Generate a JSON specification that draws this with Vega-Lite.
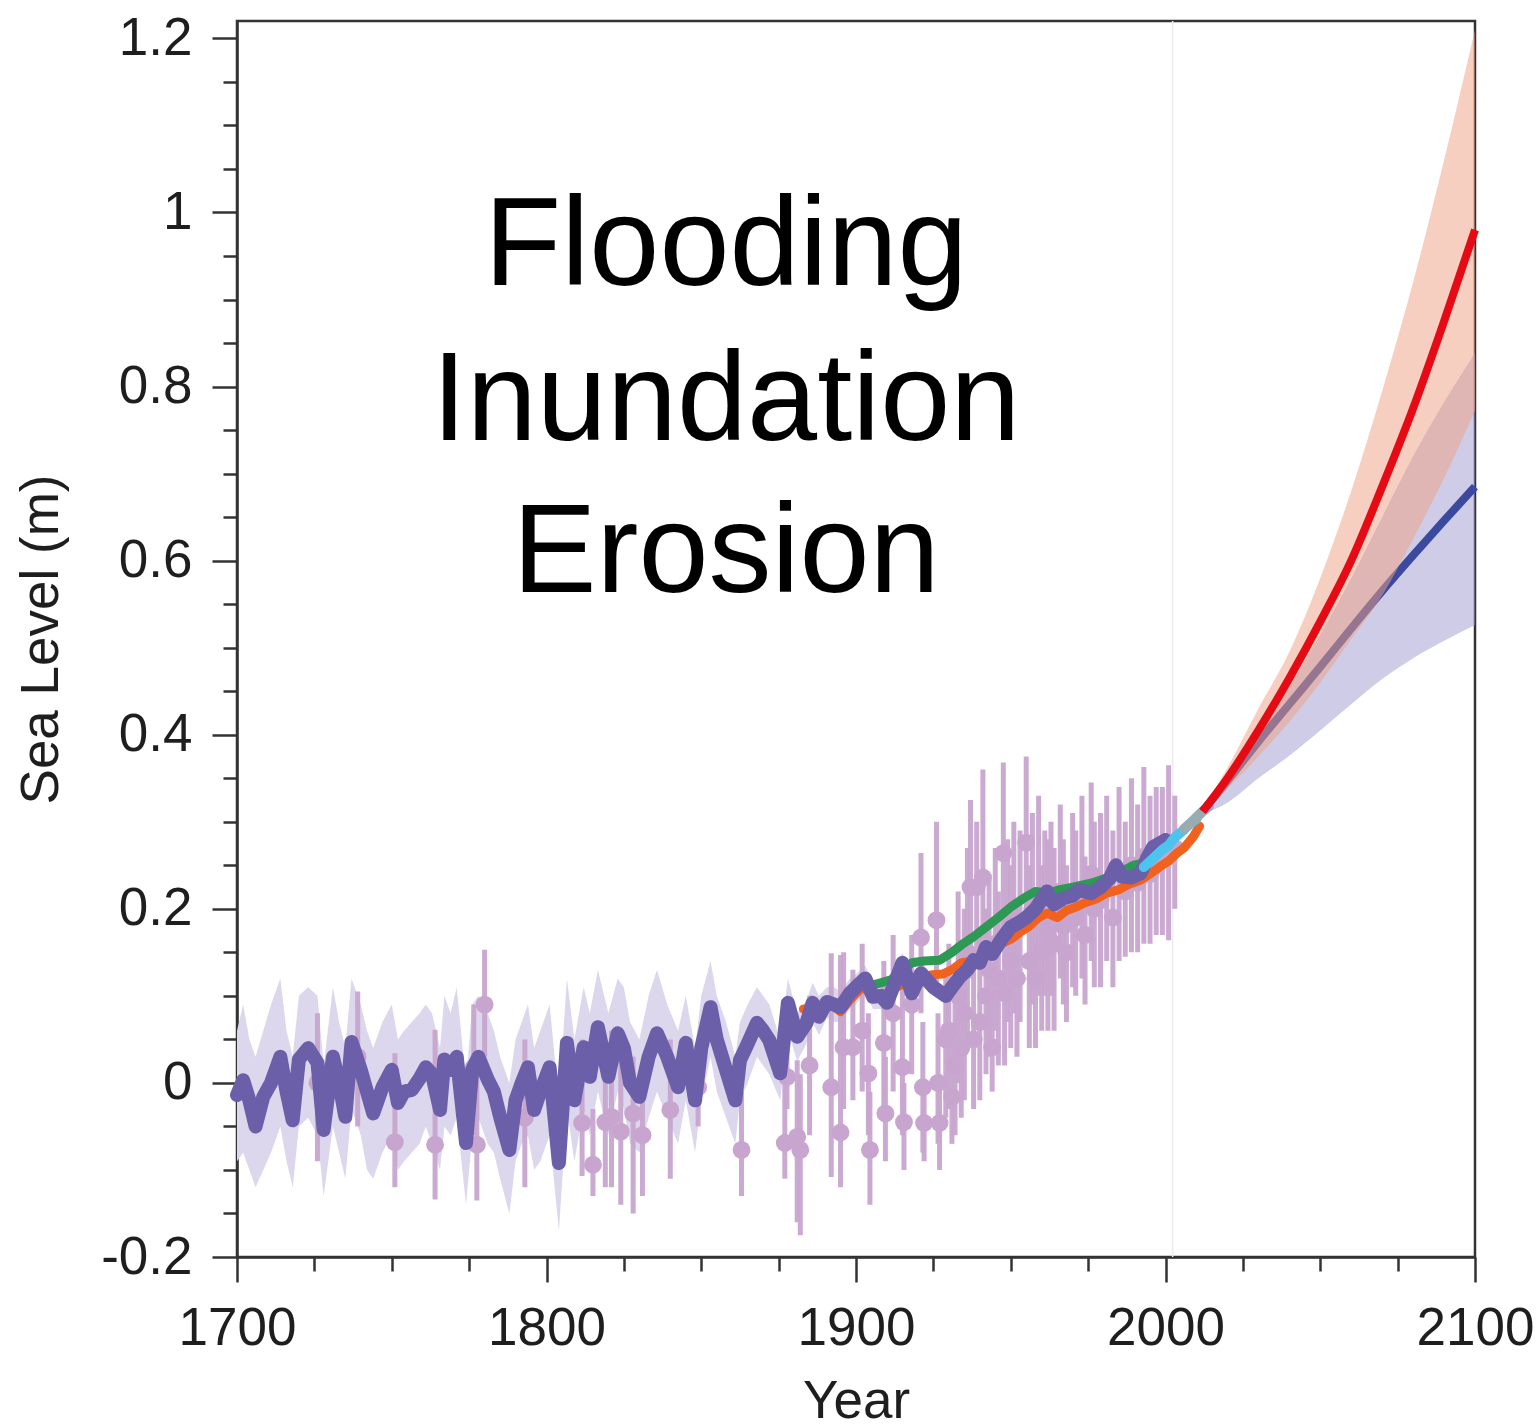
{
  "$schema": "https://vega.github.io/schema/vega-lite/v6.json",
  "width": 1238,
  "height": 1236,
  "autosize": {"type": "none"},
  "padding": {"left": 237, "top": 21, "right": 64, "bottom": 171},
  "background": "white",
  "config": {
    "view": {"stroke": "#333333", "strokeWidth": 2.5},
    "axis": {
      "grid": false,
      "domainColor": "#333333",
      "domainWidth": 2.5,
      "tickColor": "#333333",
      "tickWidth": 2.5,
      "labelFont": "Liberation Sans",
      "titleFont": "Liberation Sans",
      "labelColor": "#1e1e1e",
      "titleColor": "#1e1e1e",
      "labelFontSize": 53,
      "titleFontSize": 53,
      "titleFontWeight": "normal"
    }
  },
  "datasets": {
    "recon": [
      {"year": 1700, "v": -0.014, "lo": -0.09, "hi": 0.06},
      {"year": 1702, "v": 0.003, "lo": -0.08, "hi": 0.09},
      {"year": 1704, "v": -0.02, "lo": -0.10, "hi": 0.05},
      {"year": 1706, "v": -0.05, "lo": -0.12, "hi": 0.03},
      {"year": 1708.5, "v": -0.016, "lo": -0.10, "hi": 0.06},
      {"year": 1711, "v": 0.0, "lo": -0.08, "hi": 0.09},
      {"year": 1714, "v": 0.03, "lo": -0.05, "hi": 0.12},
      {"year": 1716, "v": -0.01, "lo": -0.09, "hi": 0.06},
      {"year": 1718, "v": -0.043, "lo": -0.12, "hi": 0.03},
      {"year": 1720, "v": 0.027, "lo": -0.05, "hi": 0.10},
      {"year": 1723, "v": 0.04, "lo": -0.04, "hi": 0.11},
      {"year": 1726, "v": 0.023, "lo": -0.06, "hi": 0.10},
      {"year": 1728, "v": -0.054, "lo": -0.13, "hi": 0.02},
      {"year": 1731, "v": 0.03, "lo": -0.05, "hi": 0.11},
      {"year": 1733, "v": 0.0, "lo": -0.08, "hi": 0.07},
      {"year": 1735, "v": -0.039, "lo": -0.11, "hi": 0.04},
      {"year": 1737, "v": 0.047, "lo": -0.03, "hi": 0.12},
      {"year": 1740, "v": 0.015, "lo": -0.06, "hi": 0.09},
      {"year": 1742, "v": -0.01, "lo": -0.10, "hi": 0.06},
      {"year": 1744, "v": -0.035, "lo": -0.11, "hi": 0.04},
      {"year": 1747, "v": -0.005, "lo": -0.08, "hi": 0.07},
      {"year": 1750, "v": 0.015, "lo": -0.06, "hi": 0.09},
      {"year": 1752, "v": -0.023, "lo": -0.10, "hi": 0.05},
      {"year": 1754, "v": -0.01, "lo": -0.09, "hi": 0.06},
      {"year": 1756.5, "v": -0.008, "lo": -0.08, "hi": 0.07},
      {"year": 1759, "v": 0.005, "lo": -0.07, "hi": 0.08},
      {"year": 1761, "v": 0.018, "lo": -0.05, "hi": 0.09},
      {"year": 1763, "v": 0.01, "lo": -0.07, "hi": 0.08},
      {"year": 1765.6, "v": -0.031, "lo": -0.10, "hi": 0.04},
      {"year": 1767, "v": 0.027, "lo": -0.05, "hi": 0.10},
      {"year": 1769, "v": 0.015, "lo": -0.06, "hi": 0.08},
      {"year": 1771, "v": 0.03, "lo": -0.04, "hi": 0.11},
      {"year": 1774, "v": -0.069, "lo": -0.14, "hi": 0.0},
      {"year": 1776, "v": 0.015, "lo": -0.06, "hi": 0.09},
      {"year": 1778, "v": 0.03, "lo": -0.04, "hi": 0.10},
      {"year": 1781, "v": 0.004, "lo": -0.07, "hi": 0.08},
      {"year": 1783, "v": -0.01, "lo": -0.08, "hi": 0.06},
      {"year": 1785, "v": -0.039, "lo": -0.11, "hi": 0.03},
      {"year": 1788, "v": -0.077, "lo": -0.15, "hi": 0.0},
      {"year": 1790, "v": -0.02, "lo": -0.09, "hi": 0.05},
      {"year": 1792, "v": 0.0, "lo": -0.07, "hi": 0.07},
      {"year": 1794, "v": 0.018, "lo": -0.06, "hi": 0.09},
      {"year": 1796, "v": -0.031, "lo": -0.10, "hi": 0.04},
      {"year": 1798, "v": -0.01, "lo": -0.09, "hi": 0.06},
      {"year": 1801, "v": 0.018, "lo": -0.06, "hi": 0.09},
      {"year": 1804, "v": -0.092, "lo": -0.17, "hi": -0.02},
      {"year": 1806.6, "v": 0.046, "lo": -0.03, "hi": 0.12},
      {"year": 1809, "v": -0.02, "lo": -0.09, "hi": 0.05},
      {"year": 1812, "v": 0.041, "lo": -0.03, "hi": 0.11},
      {"year": 1814, "v": 0.007, "lo": -0.06, "hi": 0.08},
      {"year": 1816.6, "v": 0.064, "lo": -0.01, "hi": 0.13},
      {"year": 1820, "v": 0.007, "lo": -0.06, "hi": 0.08},
      {"year": 1823, "v": 0.057, "lo": -0.01, "hi": 0.12},
      {"year": 1825, "v": 0.04, "lo": -0.03, "hi": 0.11},
      {"year": 1827, "v": 0.0, "lo": -0.07, "hi": 0.07},
      {"year": 1830, "v": -0.016, "lo": -0.08, "hi": 0.05},
      {"year": 1833, "v": 0.03, "lo": -0.04, "hi": 0.10},
      {"year": 1835.7, "v": 0.057, "lo": -0.01, "hi": 0.13},
      {"year": 1839, "v": 0.03, "lo": -0.04, "hi": 0.09},
      {"year": 1842.5, "v": -0.005, "lo": -0.07, "hi": 0.06},
      {"year": 1845, "v": 0.046, "lo": -0.02, "hi": 0.10},
      {"year": 1848, "v": -0.02, "lo": -0.08, "hi": 0.04},
      {"year": 1850, "v": 0.04, "lo": -0.02, "hi": 0.10},
      {"year": 1853, "v": 0.087, "lo": 0.03, "hi": 0.14},
      {"year": 1855, "v": 0.05, "lo": -0.01, "hi": 0.10},
      {"year": 1858, "v": 0.015, "lo": -0.04, "hi": 0.07},
      {"year": 1861, "v": -0.02, "lo": -0.07, "hi": 0.03},
      {"year": 1862.5, "v": 0.026, "lo": -0.02, "hi": 0.07},
      {"year": 1865, "v": 0.045, "lo": 0.0, "hi": 0.09},
      {"year": 1868, "v": 0.069, "lo": 0.03, "hi": 0.11},
      {"year": 1870, "v": 0.06, "lo": 0.02, "hi": 0.10},
      {"year": 1872, "v": 0.049, "lo": 0.01, "hi": 0.09},
      {"year": 1875.5, "v": 0.011, "lo": -0.02, "hi": 0.05},
      {"year": 1878, "v": 0.092, "lo": 0.06, "hi": 0.12},
      {"year": 1881, "v": 0.053, "lo": 0.025, "hi": 0.08},
      {"year": 1884, "v": 0.069, "lo": 0.045, "hi": 0.095},
      {"year": 1886, "v": 0.092, "lo": 0.07, "hi": 0.115},
      {"year": 1888, "v": 0.076, "lo": 0.055, "hi": 0.10},
      {"year": 1890.6, "v": 0.093, "lo": 0.075, "hi": 0.11},
      {"year": 1893, "v": 0.09, "lo": 0.07, "hi": 0.11},
      {"year": 1895, "v": 0.087, "lo": 0.07, "hi": 0.105},
      {"year": 1898, "v": 0.103, "lo": 0.085, "hi": 0.12},
      {"year": 1900, "v": 0.11, "lo": 0.09, "hi": 0.125},
      {"year": 1903, "v": 0.12, "lo": 0.105, "hi": 0.135},
      {"year": 1905.5, "v": 0.099, "lo": 0.085, "hi": 0.115},
      {"year": 1908, "v": 0.10, "lo": 0.085, "hi": 0.115},
      {"year": 1910, "v": 0.092, "lo": 0.08, "hi": 0.105},
      {"year": 1912, "v": 0.11, "lo": 0.095, "hi": 0.125},
      {"year": 1915, "v": 0.138, "lo": 0.125, "hi": 0.15},
      {"year": 1918, "v": 0.103, "lo": 0.09, "hi": 0.115},
      {"year": 1921, "v": 0.126, "lo": 0.115, "hi": 0.14},
      {"year": 1925, "v": 0.11, "lo": 0.10, "hi": 0.12},
      {"year": 1929, "v": 0.10, "lo": 0.09, "hi": 0.11},
      {"year": 1931, "v": 0.11, "lo": 0.10, "hi": 0.12},
      {"year": 1933.6, "v": 0.122, "lo": 0.11, "hi": 0.135},
      {"year": 1936, "v": 0.13, "lo": 0.12, "hi": 0.14},
      {"year": 1938, "v": 0.141, "lo": 0.13, "hi": 0.15},
      {"year": 1940, "v": 0.138, "lo": 0.13, "hi": 0.15},
      {"year": 1942, "v": 0.156, "lo": 0.145, "hi": 0.167},
      {"year": 1944, "v": 0.148, "lo": 0.14, "hi": 0.16},
      {"year": 1947, "v": 0.165, "lo": 0.155, "hi": 0.175},
      {"year": 1950, "v": 0.179, "lo": 0.17, "hi": 0.19},
      {"year": 1953, "v": 0.185, "lo": 0.175, "hi": 0.195},
      {"year": 1955, "v": 0.19, "lo": 0.18, "hi": 0.20},
      {"year": 1958, "v": 0.20, "lo": 0.19, "hi": 0.21},
      {"year": 1961.7, "v": 0.22, "lo": 0.21, "hi": 0.23},
      {"year": 1964, "v": 0.205, "lo": 0.195, "hi": 0.215},
      {"year": 1967, "v": 0.212, "lo": 0.20, "hi": 0.22},
      {"year": 1970, "v": 0.215, "lo": 0.205, "hi": 0.225},
      {"year": 1972, "v": 0.222, "lo": 0.21, "hi": 0.23},
      {"year": 1976, "v": 0.218, "lo": 0.21, "hi": 0.23},
      {"year": 1979, "v": 0.225, "lo": 0.215, "hi": 0.235},
      {"year": 1982, "v": 0.235, "lo": 0.225, "hi": 0.245},
      {"year": 1984, "v": 0.25, "lo": 0.24, "hi": 0.26},
      {"year": 1986, "v": 0.237, "lo": 0.23, "hi": 0.245},
      {"year": 1989, "v": 0.236, "lo": 0.23, "hi": 0.245},
      {"year": 1992, "v": 0.241, "lo": 0.235, "hi": 0.25},
      {"year": 1994, "v": 0.258, "lo": 0.25, "hi": 0.265},
      {"year": 1996, "v": 0.271, "lo": 0.265, "hi": 0.28},
      {"year": 2000, "v": 0.279, "lo": 0.27, "hi": 0.285}
    ],
    "pts": [
      {"year": 1726, "v": 0.0, "lo": -0.09, "hi": 0.08},
      {"year": 1739, "v": 0.03, "lo": -0.05, "hi": 0.105},
      {"year": 1751, "v": -0.068, "lo": -0.12, "hi": 0.034},
      {"year": 1764, "v": -0.071, "lo": -0.134, "hi": 0.061},
      {"year": 1776.5, "v": 0.018, "lo": -0.06, "hi": 0.09},
      {"year": 1777.5, "v": -0.071, "lo": -0.135, "hi": 0.02},
      {"year": 1780, "v": 0.09, "lo": 0.03, "hi": 0.153},
      {"year": 1793, "v": -0.04, "lo": -0.12, "hi": 0.05},
      {"year": 1811.5, "v": -0.046, "lo": -0.107, "hi": 0.05},
      {"year": 1815, "v": -0.094, "lo": -0.13, "hi": -0.03},
      {"year": 1819, "v": -0.045, "lo": -0.12, "hi": 0.04},
      {"year": 1821, "v": -0.039, "lo": -0.12, "hi": 0.06},
      {"year": 1824, "v": -0.056, "lo": -0.14, "hi": 0.04},
      {"year": 1828, "v": -0.035, "lo": -0.15, "hi": 0.03},
      {"year": 1831, "v": -0.06, "lo": -0.13, "hi": 0.02},
      {"year": 1840, "v": -0.031, "lo": -0.11, "hi": 0.05},
      {"year": 1849, "v": -0.005, "lo": -0.05, "hi": 0.03},
      {"year": 1863, "v": -0.077, "lo": -0.13, "hi": -0.01},
      {"year": 1877, "v": -0.069, "lo": -0.11, "hi": 0.01},
      {"year": 1877.7, "v": 0.007, "lo": -0.03, "hi": 0.06},
      {"year": 1881, "v": -0.062, "lo": -0.16, "hi": 0.026},
      {"year": 1882, "v": -0.077, "lo": -0.175, "hi": 0.01},
      {"year": 1885, "v": 0.02, "lo": -0.06, "hi": 0.10},
      {"year": 1892, "v": -0.005, "lo": -0.108, "hi": 0.149},
      {"year": 1895, "v": -0.057, "lo": -0.12, "hi": 0.147},
      {"year": 1896, "v": 0.041, "lo": -0.03, "hi": 0.15},
      {"year": 1899, "v": 0.041, "lo": -0.02, "hi": 0.13},
      {"year": 1902, "v": 0.06, "lo": -0.01, "hi": 0.16},
      {"year": 1904, "v": 0.011, "lo": -0.06, "hi": 0.08},
      {"year": 1904.5, "v": -0.077, "lo": -0.14, "hi": -0.01},
      {"year": 1909, "v": 0.046, "lo": -0.03, "hi": 0.14},
      {"year": 1909.5, "v": -0.035, "lo": -0.09, "hi": 0.03},
      {"year": 1912, "v": 0.08, "lo": -0.01, "hi": 0.17},
      {"year": 1915, "v": 0.018, "lo": -0.06, "hi": 0.14},
      {"year": 1915.5, "v": -0.045, "lo": -0.10, "hi": 0.0},
      {"year": 1918, "v": 0.09, "lo": 0.01, "hi": 0.17},
      {"year": 1921, "v": 0.167, "lo": 0.08, "hi": 0.264},
      {"year": 1921.6, "v": -0.005, "lo": -0.08, "hi": 0.07},
      {"year": 1922, "v": -0.046, "lo": -0.09, "hi": 0.0},
      {"year": 1926, "v": 0.187, "lo": 0.10, "hi": 0.30},
      {"year": 1926.5, "v": 0.0, "lo": -0.07, "hi": 0.08},
      {"year": 1927, "v": -0.046, "lo": -0.10, "hi": 0.01},
      {"year": 1929, "v": 0.05, "lo": -0.04, "hi": 0.13},
      {"year": 1930, "v": 0.06, "lo": -0.03, "hi": 0.16},
      {"year": 1931, "v": -0.016, "lo": -0.07, "hi": 0.05},
      {"year": 1932, "v": 0.02, "lo": -0.06, "hi": 0.10},
      {"year": 1933, "v": 0.10, "lo": 0.0, "hi": 0.22},
      {"year": 1934, "v": 0.04, "lo": -0.04, "hi": 0.13},
      {"year": 1935, "v": 0.08, "lo": -0.02, "hi": 0.20},
      {"year": 1936, "v": 0.15, "lo": 0.04, "hi": 0.27},
      {"year": 1937, "v": 0.225, "lo": 0.12, "hi": 0.325},
      {"year": 1938, "v": 0.05, "lo": -0.03, "hi": 0.14},
      {"year": 1939, "v": 0.225, "lo": 0.15, "hi": 0.30},
      {"year": 1940, "v": 0.07, "lo": -0.02, "hi": 0.17},
      {"year": 1941, "v": 0.236, "lo": 0.14, "hi": 0.36},
      {"year": 1942, "v": 0.10, "lo": 0.01, "hi": 0.20},
      {"year": 1943, "v": 0.13, "lo": 0.03, "hi": 0.24},
      {"year": 1944, "v": 0.041, "lo": -0.01, "hi": 0.12},
      {"year": 1945, "v": 0.16, "lo": 0.06, "hi": 0.27},
      {"year": 1946, "v": 0.12, "lo": 0.02, "hi": 0.22},
      {"year": 1947.6, "v": 0.264, "lo": 0.16, "hi": 0.368},
      {"year": 1948, "v": 0.103, "lo": 0.02, "hi": 0.19},
      {"year": 1949, "v": 0.17, "lo": 0.07, "hi": 0.28},
      {"year": 1950, "v": 0.14, "lo": 0.04, "hi": 0.25},
      {"year": 1951, "v": 0.19, "lo": 0.08, "hi": 0.30},
      {"year": 1952, "v": 0.12, "lo": 0.03, "hi": 0.21},
      {"year": 1953, "v": 0.18, "lo": 0.07, "hi": 0.29},
      {"year": 1955, "v": 0.276, "lo": 0.18, "hi": 0.375},
      {"year": 1956, "v": 0.14, "lo": 0.04, "hi": 0.25},
      {"year": 1957, "v": 0.20, "lo": 0.09, "hi": 0.31},
      {"year": 1958, "v": 0.12, "lo": 0.04, "hi": 0.21},
      {"year": 1959, "v": 0.21, "lo": 0.10, "hi": 0.33},
      {"year": 1960, "v": 0.15, "lo": 0.06, "hi": 0.25},
      {"year": 1961, "v": 0.19, "lo": 0.10, "hi": 0.29},
      {"year": 1962, "v": 0.17, "lo": 0.06, "hi": 0.28},
      {"year": 1963, "v": 0.20, "lo": 0.10, "hi": 0.30},
      {"year": 1964, "v": 0.16, "lo": 0.06, "hi": 0.27},
      {"year": 1966, "v": 0.22, "lo": 0.12, "hi": 0.32},
      {"year": 1967, "v": 0.18, "lo": 0.09, "hi": 0.28},
      {"year": 1968, "v": 0.15, "lo": 0.07, "hi": 0.25},
      {"year": 1970, "v": 0.21, "lo": 0.11, "hi": 0.31},
      {"year": 1971, "v": 0.19, "lo": 0.10, "hi": 0.29},
      {"year": 1973, "v": 0.22, "lo": 0.12, "hi": 0.33},
      {"year": 1974, "v": 0.17, "lo": 0.09, "hi": 0.26},
      {"year": 1976, "v": 0.24, "lo": 0.14, "hi": 0.345},
      {"year": 1977, "v": 0.20, "lo": 0.11, "hi": 0.30},
      {"year": 1979, "v": 0.21, "lo": 0.11, "hi": 0.31},
      {"year": 1981, "v": 0.23, "lo": 0.14, "hi": 0.33},
      {"year": 1983, "v": 0.19, "lo": 0.11, "hi": 0.29},
      {"year": 1985, "v": 0.24, "lo": 0.14, "hi": 0.34},
      {"year": 1987, "v": 0.22, "lo": 0.145, "hi": 0.30},
      {"year": 1989, "v": 0.25, "lo": 0.15, "hi": 0.35},
      {"year": 1991, "v": 0.23, "lo": 0.15, "hi": 0.32},
      {"year": 1993, "v": 0.26, "lo": 0.16, "hi": 0.363},
      {"year": 1995, "v": 0.24, "lo": 0.16, "hi": 0.33},
      {"year": 1997, "v": 0.25, "lo": 0.17, "hi": 0.34},
      {"year": 1999, "v": 0.26, "lo": 0.17, "hi": 0.34},
      {"year": 2001, "v": 0.26, "lo": 0.164, "hi": 0.365},
      {"year": 2003, "v": 0.27, "lo": 0.20, "hi": 0.33}
    ],
    "orange": [
      {"year": 1883, "v": 0.085}, {"year": 1888, "v": 0.08}, {"year": 1892, "v": 0.09},
      {"year": 1895, "v": 0.082}, {"year": 1898, "v": 0.095}, {"year": 1902, "v": 0.11},
      {"year": 1905, "v": 0.103}, {"year": 1909, "v": 0.10}, {"year": 1912, "v": 0.108},
      {"year": 1916, "v": 0.115}, {"year": 1920, "v": 0.12}, {"year": 1924, "v": 0.124},
      {"year": 1928, "v": 0.125}, {"year": 1931, "v": 0.13}, {"year": 1934, "v": 0.138},
      {"year": 1938, "v": 0.14}, {"year": 1941, "v": 0.145}, {"year": 1944, "v": 0.15},
      {"year": 1947, "v": 0.16}, {"year": 1950, "v": 0.165}, {"year": 1953, "v": 0.173},
      {"year": 1956, "v": 0.18}, {"year": 1959, "v": 0.19}, {"year": 1961.7, "v": 0.195},
      {"year": 1965, "v": 0.19}, {"year": 1968, "v": 0.198}, {"year": 1971, "v": 0.202},
      {"year": 1974, "v": 0.207}, {"year": 1978, "v": 0.212}, {"year": 1981, "v": 0.218},
      {"year": 1985, "v": 0.222}, {"year": 1988, "v": 0.228}, {"year": 1992, "v": 0.233},
      {"year": 1995, "v": 0.24}, {"year": 1998, "v": 0.248}, {"year": 2001, "v": 0.255},
      {"year": 2003.7, "v": 0.264}, {"year": 2006, "v": 0.27}, {"year": 2009, "v": 0.283},
      {"year": 2011, "v": 0.295}
    ],
    "green": [
      {"year": 1905, "v": 0.112}, {"year": 1908, "v": 0.115}, {"year": 1911, "v": 0.118},
      {"year": 1914, "v": 0.125}, {"year": 1918, "v": 0.138}, {"year": 1922, "v": 0.14},
      {"year": 1927, "v": 0.141}, {"year": 1931, "v": 0.15}, {"year": 1934.6, "v": 0.16},
      {"year": 1938, "v": 0.168}, {"year": 1942, "v": 0.179}, {"year": 1946, "v": 0.19},
      {"year": 1950, "v": 0.202}, {"year": 1955, "v": 0.214}, {"year": 1958, "v": 0.22},
      {"year": 1962, "v": 0.218}, {"year": 1966, "v": 0.222}, {"year": 1970, "v": 0.225},
      {"year": 1976.6, "v": 0.23}, {"year": 1982, "v": 0.237}, {"year": 1986, "v": 0.243},
      {"year": 1989.5, "v": 0.25}, {"year": 1992, "v": 0.252}
    ],
    "cyan": [
      {"year": 1993, "v": 0.248}, {"year": 1996, "v": 0.258}, {"year": 1999, "v": 0.268},
      {"year": 2001, "v": 0.273}, {"year": 2003, "v": 0.282}, {"year": 2005.7, "v": 0.29},
      {"year": 2008, "v": 0.298}, {"year": 2010, "v": 0.303}
    ],
    "grey": [
      {"year": 2006, "v": 0.292}, {"year": 2008, "v": 0.298}, {"year": 2010, "v": 0.305},
      {"year": 2012, "v": 0.312}, {"year": 2014, "v": 0.318}
    ],
    "proj": [
      {"year": 2012, "red": 0.312, "rlo": 0.311, "rhi": 0.314, "blue": 0.312, "blo": 0.309, "bhi": 0.315},
      {"year": 2020, "red": 0.350, "rlo": 0.338, "rhi": 0.362, "blue": 0.347, "blo": 0.322, "bhi": 0.354},
      {"year": 2030, "red": 0.405, "rlo": 0.375, "rhi": 0.430, "blue": 0.392, "blo": 0.350, "bhi": 0.402},
      {"year": 2040, "red": 0.465, "rlo": 0.415, "rhi": 0.495, "blue": 0.435, "blo": 0.376, "bhi": 0.456},
      {"year": 2050, "red": 0.530, "rlo": 0.460, "rhi": 0.580, "blue": 0.478, "blo": 0.405, "bhi": 0.515},
      {"year": 2060, "red": 0.600, "rlo": 0.510, "rhi": 0.680, "blue": 0.522, "blo": 0.435, "bhi": 0.580},
      {"year": 2070, "red": 0.685, "rlo": 0.560, "rhi": 0.795, "blue": 0.565, "blo": 0.464, "bhi": 0.650},
      {"year": 2080, "red": 0.775, "rlo": 0.625, "rhi": 0.920, "blue": 0.606, "blo": 0.488, "bhi": 0.720},
      {"year": 2090, "red": 0.875, "rlo": 0.695, "rhi": 1.060, "blue": 0.646, "blo": 0.508, "bhi": 0.782},
      {"year": 2100, "red": 0.980, "rlo": 0.772, "rhi": 1.210, "blue": 0.685, "blo": 0.526, "bhi": 0.839}
    ],
    "words": [
      {"t": "Flooding", "year": 1858, "v": 0.917},
      {"t": "Inundation", "year": 1858, "v": 0.739},
      {"t": "Erosion", "year": 1858, "v": 0.564}
    ],
    "marker": [{"year": 2002.3}]
  },
  "resolve": {"axis": {"x": "independent", "y": "independent"}},
  "layer": [
    {
      "data": {"name": "recon"},
      "mark": {"type": "area", "color": "#dcd7ec", "interpolate": "linear"},
      "encoding": {
        "x": {"field": "year", "type": "quantitative", "scale": {"domain": [1700, 2100], "nice": false, "zero": false},
          "axis": {"orient": "bottom", "values": [1700, 1800, 1900, 2000, 2100], "format": "d", "tickSize": 25, "labelPadding": 20, "title": "Year", "titlePadding": 20, "labelFlush": false, "labelOverlap": false}},
        "y": {"field": "lo", "type": "quantitative", "scale": {"domain": [-0.2, 1.22], "nice": false, "zero": false},
          "axis": {"orient": "left", "values": [-0.2, 0, 0.2, 0.4, 0.6, 0.8, 1, 1.2], "labelExpr": "replace(format(datum.value, '.1~f'), '\u2212', '-')", "tickSize": 25, "labelPadding": 20, "title": "Sea Level (m)", "titlePadding": 32, "labelFlush": false, "labelOverlap": false}},
        "y2": {"field": "hi"}
      }
    },
    {
      "data": {"name": "marker"},
      "mark": {"type": "rule", "color": "#ececec", "strokeWidth": 1.5},
      "encoding": {
        "x": {"field": "year", "type": "quantitative", "scale": {"domain": [1700, 2100], "nice": false, "zero": false}, "axis": null}
      }
    },
    {
      "data": {"name": "pts"},
      "mark": {"type": "rule", "color": "#c7a5cf", "strokeWidth": 5, "opacity": 0.95},
      "encoding": {
        "x": {"field": "year", "type": "quantitative", "scale": {"domain": [1700, 2100], "nice": false, "zero": false},
          "axis": {"orient": "bottom", "values": [1725, 1750, 1775, 1825, 1850, 1875, 1925, 1950, 1975, 2025, 2050, 2075], "tickSize": 14, "labels": false, "domain": false, "title": null}},
        "y": {"field": "lo", "type": "quantitative", "scale": {"domain": [-0.2, 1.22], "nice": false, "zero": false},
          "axis": {"orient": "left", "values": [-0.15, -0.1, -0.05, 0.05, 0.1, 0.15, 0.25, 0.3, 0.35, 0.45, 0.5, 0.55, 0.65, 0.7, 0.75, 0.85, 0.9, 0.95, 1.05, 1.1, 1.15], "tickSize": 14, "labels": false, "domain": false, "title": null}},
        "y2": {"field": "hi"}
      }
    },
    {
      "data": {"name": "pts"},
      "mark": {"type": "circle", "color": "#c7a5cf", "size": 320, "opacity": 1},
      "encoding": {
        "x": {"field": "year", "type": "quantitative", "scale": {"domain": [1700, 2100], "nice": false, "zero": false}, "axis": null},
        "y": {"field": "v", "type": "quantitative", "scale": {"domain": [-0.2, 1.22], "nice": false, "zero": false}, "axis": null}
      }
    },
    {
      "data": {"name": "orange"},
      "mark": {"type": "line", "color": "#f0621e", "strokeWidth": 9, "strokeJoin": "round", "strokeCap": "round"},
      "encoding": {
        "x": {"field": "year", "type": "quantitative", "scale": {"domain": [1700, 2100], "nice": false, "zero": false}, "axis": null},
        "y": {"field": "v", "type": "quantitative", "scale": {"domain": [-0.2, 1.22], "nice": false, "zero": false}, "axis": null}
      }
    },
    {
      "data": {"name": "green"},
      "mark": {"type": "line", "color": "#2e9955", "strokeWidth": 9, "strokeJoin": "round", "strokeCap": "round"},
      "encoding": {
        "x": {"field": "year", "type": "quantitative", "scale": {"domain": [1700, 2100], "nice": false, "zero": false}, "axis": null},
        "y": {"field": "v", "type": "quantitative", "scale": {"domain": [-0.2, 1.22], "nice": false, "zero": false}, "axis": null}
      }
    },
    {
      "data": {"name": "recon"},
      "mark": {"type": "line", "color": "#6a5fa8", "strokeWidth": 14, "strokeJoin": "round", "strokeCap": "round"},
      "encoding": {
        "x": {"field": "year", "type": "quantitative", "scale": {"domain": [1700, 2100], "nice": false, "zero": false}, "axis": null},
        "y": {"field": "v", "type": "quantitative", "scale": {"domain": [-0.2, 1.22], "nice": false, "zero": false}, "axis": null}
      }
    },
    {
      "data": {"name": "cyan"},
      "mark": {"type": "line", "color": "#4cc4ee", "strokeWidth": 10, "strokeJoin": "round", "strokeCap": "round"},
      "encoding": {
        "x": {"field": "year", "type": "quantitative", "scale": {"domain": [1700, 2100], "nice": false, "zero": false}, "axis": null},
        "y": {"field": "v", "type": "quantitative", "scale": {"domain": [-0.2, 1.22], "nice": false, "zero": false}, "axis": null}
      }
    },
    {
      "data": {"name": "grey"},
      "mark": {"type": "line", "color": "#9aabb2", "strokeWidth": 10, "strokeJoin": "round", "strokeCap": "round"},
      "encoding": {
        "x": {"field": "year", "type": "quantitative", "scale": {"domain": [1700, 2100], "nice": false, "zero": false}, "axis": null},
        "y": {"field": "v", "type": "quantitative", "scale": {"domain": [-0.2, 1.22], "nice": false, "zero": false}, "axis": null}
      }
    },
    {
      "data": {"name": "proj"},
      "mark": {"type": "area", "color": "#9e9ad0", "opacity": 0.5, "interpolate": "monotone"},
      "encoding": {
        "x": {"field": "year", "type": "quantitative", "scale": {"domain": [1700, 2100], "nice": false, "zero": false}, "axis": null},
        "y": {"field": "blo", "type": "quantitative", "scale": {"domain": [-0.2, 1.22], "nice": false, "zero": false}, "axis": null},
        "y2": {"field": "bhi"}
      }
    },
    {
      "data": {"name": "proj"},
      "mark": {"type": "line", "color": "#3b4a9e", "strokeWidth": 8, "interpolate": "monotone"},
      "encoding": {
        "x": {"field": "year", "type": "quantitative", "scale": {"domain": [1700, 2100], "nice": false, "zero": false}, "axis": null},
        "y": {"field": "blue", "type": "quantitative", "scale": {"domain": [-0.2, 1.22], "nice": false, "zero": false}, "axis": null}
      }
    },
    {
      "data": {"name": "proj"},
      "mark": {"type": "area", "color": "#ef9f81", "opacity": 0.5, "interpolate": "monotone"},
      "encoding": {
        "x": {"field": "year", "type": "quantitative", "scale": {"domain": [1700, 2100], "nice": false, "zero": false}, "axis": null},
        "y": {"field": "rlo", "type": "quantitative", "scale": {"domain": [-0.2, 1.22], "nice": false, "zero": false}, "axis": null},
        "y2": {"field": "rhi"}
      }
    },
    {
      "data": {"name": "proj"},
      "mark": {"type": "line", "color": "#e50a14", "strokeWidth": 8, "interpolate": "monotone"},
      "encoding": {
        "x": {"field": "year", "type": "quantitative", "scale": {"domain": [1700, 2100], "nice": false, "zero": false}, "axis": null},
        "y": {"field": "red", "type": "quantitative", "scale": {"domain": [-0.2, 1.22], "nice": false, "zero": false}, "axis": null}
      }
    },
    {
      "data": {"name": "words"},
      "mark": {"type": "text", "font": "Liberation Sans", "fontSize": 126, "color": "#000000", "align": "center", "baseline": "alphabetic"},
      "encoding": {
        "x": {"field": "year", "type": "quantitative", "scale": {"domain": [1700, 2100], "nice": false, "zero": false}, "axis": null},
        "y": {"field": "v", "type": "quantitative", "scale": {"domain": [-0.2, 1.22], "nice": false, "zero": false}, "axis": null},
        "text": {"field": "t"}
      }
    }
  ]
}
